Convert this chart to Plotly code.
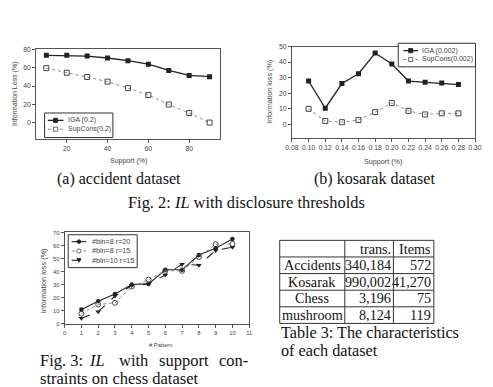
import plotly.graph_objects as go

W, H = 493, 387

# ---------------- data ----------------
# (a) accident dataset
acc_support = [10, 20, 30, 40, 50, 60, 70, 80, 90]
acc_iga = [73.3, 73.3, 72.5, 70.4, 67.5, 63.7, 56.9, 51.5, 50.1]
acc_supcons = [59.4, 54.4, 49.8, 44.8, 37.7, 30.2, 19.9, 10.7, 0.3]
acc_names = ["IGA (0.2)", "SupCons(0.2)"]

# (b) kosarak dataset
kos_support = [0.10, 0.12, 0.14, 0.16, 0.18, 0.20, 0.22, 0.24, 0.26, 0.28]
kos_iga = [27.8, 10.3, 26.2, 32.5, 45.8, 38.8, 27.8, 27.0, 26.6, 25.5]
kos_supcons = [9.9, 2.1, 1.3, 2.7, 7.8, 13.7, 8.6, 6.3, 7.0, 7.0]
kos_names = ["IGA (0.002)", "SupCons(0.002)"]

# Fig. 3 chess dataset
patterns = [1, 2, 3, 4, 5, 6, 7, 8, 9, 10]
bin8_r20 = [11.0, 17.3, 22.8, 30.1, 30.6, 41.4, 41.4, 52.7, 58.0, 65.0]
bin8_r15 = [7.8, 14.8, 16.1, 28.6, 33.9, 40.6, 40.6, 51.2, 61.0, 61.2]
bin10_r15 = [4.3, 9.3, 21.3, 29.4, 30.6, 37.4, 45.7, 44.9, 56.2, 58.7]
chess_names = ["#bin=8 r=20", "#bin=8 r=15", "#bin=10 r=15"]

# Table 3
tbl_header = ["", "trans.", "Items"]
tbl_names = ["Accidents", "Kosarak", "Chess", "mushroom"]
tbl_trans = ["340,184", "990,002", "3,196", "8,124"]
tbl_items = ["572", "41,270", "75", "119"]

# ---------------- helpers ----------------
def px(x):
    return x / W

def py(y):
    return 1 - y / H

SANS = "Liberation Sans"
SERIF = "Liberation Serif"
AX = "#555555"
TXT = "#444444"
CAP = "#111111"

solid = dict(color="#222222", width=1.3)
solid3 = dict(color="#222222", width=1.1)
dotted = dict(color="#8a8a8a", width=1, dash="dot")
dashed = dict(color="#222222", width=1.1, dash="dash")

m_sq = dict(symbol="square", size=5, color="#222222")
m_sq_open = dict(symbol="square-open", size=5, color="#444444")
m_ci = dict(symbol="circle", size=4.5, color="#222222")
m_ci_open = dict(symbol="circle-open", size=5, color="#444444")
m_tri = dict(symbol="triangle-down", size=5, color="#222222")

fig = go.Figure()

def series(x, y, name, line, marker, xa, ya):
    fig.add_trace(go.Scatter(x=x, y=y, name=name, mode="lines+markers", line=line,
                             marker=marker, xaxis=xa, yaxis=ya, showlegend=False))

series(acc_support, acc_iga, acc_names[0], solid, m_sq, "x", "y")
series(acc_support, acc_supcons, acc_names[1], dotted, m_sq_open, "x", "y")
series(kos_support, kos_iga, kos_names[0], solid, m_sq, "x2", "y2")
series(kos_support, kos_supcons, kos_names[1], dotted, m_sq_open, "x2", "y2")
series(patterns, bin8_r20, chess_names[0], solid3, m_ci, "x3", "y3")
series(patterns, bin8_r15, chess_names[1], dotted, m_ci_open, "x3", "y3")
series(patterns, bin10_r15, chess_names[2], dashed, m_tri, "x3", "y3")

def axis(domain, rng, anchor, tickvals=None, dtick=None, fmt=None, fs=6.8):
    d = dict(domain=domain, range=rng, anchor=anchor, showline=True, mirror=True,
             linecolor=AX, linewidth=1, ticks="outside", ticklen=3, tickcolor=AX,
             showgrid=False, zeroline=False, fixedrange=True,
             tickfont=dict(family=SANS, size=fs, color=TXT))
    if tickvals is not None:
        d["tickmode"] = "array"
        d["tickvals"] = tickvals
    if dtick is not None:
        d["tick0"] = 0
        d["dtick"] = dtick
    if fmt:
        d["tickformat"] = fmt
    return d

fig.update_layout(
    width=W, height=H, margin=dict(l=0, r=0, t=0, b=0),
    paper_bgcolor="white", plot_bgcolor="white", showlegend=False,
    xaxis=axis([px(30), px(219)], [5, 95], "y", tickvals=[20, 40, 60, 80]),
    yaxis=axis([py(137), py(46)], [-17, 80], "x", tickvals=[0, 20, 40, 60, 80]),
    xaxis2=axis([px(293.3), px(481.7)], [0.08, 0.30], "y2", dtick=0.02, fmt=".2f"),
    yaxis2=axis([py(136.7), py(43.3)], [-9, 50], "x2", tickvals=[0, 10, 20, 30, 40, 50]),
    xaxis3=axis([px(59.3), px(249.3)], [0, 11], "y3", dtick=1, fs=5.8),
    yaxis3=axis([py(325.7), py(232.7)], [0, 70], "x3", dtick=10, fs=5.8),
)

ann = []
shapes = []

def text(x, y, s, size, family=SANS, color=TXT, angle=0, xanchor="center"):
    ann.append(dict(x=px(x), y=py(y), xref="paper", yref="paper", text=s, showarrow=False,
                    xanchor=xanchor, yanchor="middle", textangle=angle, borderpad=0,
                    font=dict(family=family, size=size, color=color)))

def seg(x0, y0, x1, y1, color="#333333", width=1, dash="solid"):
    shapes.append(dict(type="line", xref="paper", yref="paper",
                       x0=px(x0), y0=py(y0), x1=px(x1), y1=py(y1),
                       line=dict(color=color, width=width, dash=dash)))

def key_marker(cx, cy, m):
    s = m["size"] * 0.85
    sym = m["symbol"]
    fill = "white" if sym.endswith("open") else m["color"]
    if sym.startswith("square") or sym.startswith("circle"):
        shapes.append(dict(type="rect" if sym.startswith("square") else "circle",
                           xref="paper", yref="paper",
                           x0=px(cx - s / 2), x1=px(cx + s / 2),
                           y0=py(cy + s / 2), y1=py(cy - s / 2),
                           fillcolor=fill, line=dict(color=m["color"], width=0.8)))
    else:
        path = "M{},{} L{},{} L{},{} Z".format(px(cx - s / 2), py(cy - s / 2.3),
                                              px(cx + s / 2), py(cy - s / 2.3),
                                              px(cx), py(cy + s / 2))
        shapes.append(dict(type="path", xref="paper", yref="paper", path=path,
                           fillcolor=fill, line=dict(color=m["color"], width=0.8)))

def key_box(x0, x1, y0, y1, lx0, lx1, tx, rows, entries, fs):
    shapes.append(dict(type="rect", xref="paper", yref="paper",
                       x0=px(x0), x1=px(x1), y0=py(y1), y1=py(y0),
                       fillcolor="white", line=dict(color="#333333", width=1)))
    for ry, (name, line, m) in zip(rows, entries):
        seg(lx0, ry, lx1, ry, line["color"], line["width"], line.get("dash", "solid"))
        key_marker((lx0 + lx1) / 2, ry, m)
        text(tx, ry, name, fs, xanchor="left")

# legends (keys)
key_box(38.7, 109, 111, 136, 42, 58, 62, [118.5, 127.5],
        [(acc_names[0], solid, m_sq), (acc_names[1], dotted, m_sq_open)], 7)
key_box(402.7, 482.2, 40, 64, 408, 423, 426, [47.5, 56.5],
        [(kos_names[0], solid, m_sq), (kos_names[1], dotted, m_sq_open)], 7)
key_box(63, 134, 235, 268.5, 66.5, 81.5, 86, [242, 251.5, 261],
        [(chess_names[0], solid3, m_ci), (chess_names[1], dotted, m_ci_open),
         (chess_names[2], dashed, m_tri)], 7.2)

# axis titles
text(8.3, 91.7, "Information Loss (%)", 7, angle=-90)
text(124.7, 160, "Support (%)", 7)
text(270, 89, "Information loss (%)", 7.2, angle=-90)
text(387.5, 160, "Support (%)", 7.2)
text(37.5, 282, "Information loss (%)", 7.3, angle=-90)
text(158, 347, "# Pattern", 5.8)

# table 3 (grid + cell text)
tx0, ty0 = 280.7, 240.7
col_w = [67, 50, 41.6]
row_h = 16.92
cols = [tbl_names, tbl_trans, tbl_items]
n_rows = len(tbl_names) + 1
col_edges = [tx0]
for w in col_w:
    col_edges.append(col_edges[-1] + w)
row_edges = [ty0 + i * row_h for i in range(n_rows + 1)]
for yy in row_edges:
    seg(col_edges[0], yy, col_edges[-1], yy, "#333333", 1)
for xx in col_edges:
    seg(xx, row_edges[0], xx, row_edges[-1], "#333333", 1)
for c in range(3):
    vals = [tbl_header[c]] + cols[c]
    for r, v in enumerate(vals):
        if not v:
            continue
        cy = (row_edges[r] + row_edges[r + 1]) / 2
        if c == 0:
            text((col_edges[0] + col_edges[1]) / 2, cy, v, 14.2, SERIF, CAP)
        else:
            text(col_edges[c + 1] - 1.5, cy, v, 14.2, SERIF, CAP, xanchor="right")

# captions
text(115.5, 178, "(a) accident dataset", 16, SERIF, CAP)
text(378, 178, "(b) kosarak dataset", 16, SERIF, CAP)
text(247, 202, "Fig. 2: <i>IL</i> with disclosure thresholds", 16.4, SERIF, CAP)
for wx, w in [(33.3, "Fig. 3:"), (83.3, "<i>IL</i>"), (114, "with"), (155, "support"), (217.3, "con-")]:
    text(wx, 363, w, 16.5, SERIF, CAP, xanchor="left")
text(33.3, 381, "straints on chess dataset", 16.5, SERIF, CAP, xanchor="left")
text(281, 335.5, "Table 3: The characteristics", 16.2, SERIF, CAP, xanchor="left")
text(281, 353.5, "of each dataset", 16.2, SERIF, CAP, xanchor="left")

fig.update_layout(annotations=ann, shapes=shapes)
fig.write_html("out.html")
